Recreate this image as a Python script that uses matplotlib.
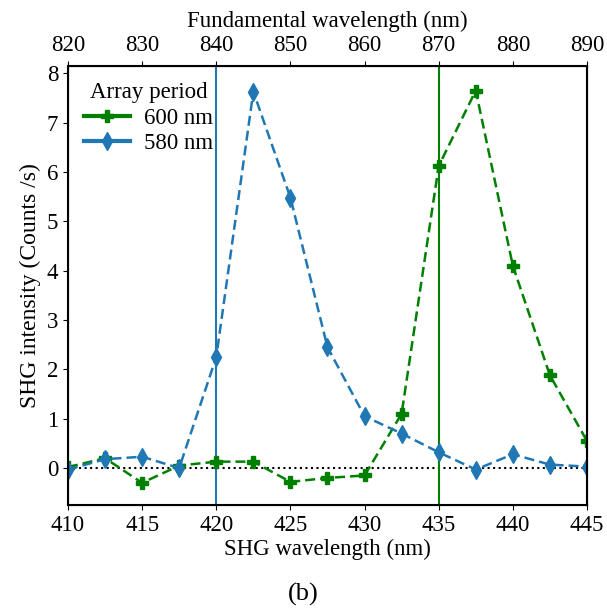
import matplotlib
matplotlib.use('Agg')
import numpy as np
from matplotlib import pyplot as plt
from matplotlib.lines import Line2D

plt.rcParams['font.family'] = ['Liberation Serif', 'DejaVu Serif']
plt.rcParams['font.size'] = 16.5

# SHG wavelength (nm)
lungimi = [410, 412.5, 415, 417.5, 420, 422.5, 425, 427.5, 430, 432.5, 435, 437.5, 440, 442.5, 445]
# intensitati pentru perioada 600 nm si 580 nm
i600 = [0.02, 0.2, -0.3, 0.05, 0.13, 0.13, -0.28, -0.2, -0.15, 1.1, 6.12, 7.65, 4.1, 1.88, 0.55]
i580 = [-0.03, 0.18, 0.23, 0.0, 2.25, 7.63, 5.48, 2.45, 1.05, 0.7, 0.32, -0.03, 0.28, 0.07, 0.03]
rezonante = [420, 435]
etichete = ['600 nm', '580 nm']

fig = plt.figure(figsize=(6.07, 6.10), dpi=100)
ax = fig.add_axes([0.112, 0.172, 0.855, 0.72])

ax.axhline(0, color='black', linestyle=':', linewidth=1.5)
ax.axvline(rezonante[0], color='#1f77b4', linewidth=1.5)
ax.axvline(rezonante[1], color='green', linewidth=1.5)
ax.plot(lungimi, i600, '--', color='green', marker='P', markersize=8, linewidth=1.8, dashes=(4, 2))
ax.plot(lungimi, i580, '--', color='#1f77b4', marker='d', markersize=9, linewidth=1.8, dashes=(4, 2))

ax.set_xlim(410, 445)
ax.set_ylim(-0.75, 8.15)
ax.set_xticks(np.arange(410, 446, 5))
ax.set_yticks(range(0, 9))
ax.set_xlabel('SHG wavelength (nm)', labelpad=2)
ax.set_ylabel('SHG intensity (Counts /s)', fontsize=17)
for s in ax.spines.values():
    s.set_linewidth(1.5)

#legenda cu linii continue
handles = [Line2D([], [], color='green', marker='P', markersize=8, linewidth=3),
           Line2D([], [], color='#1f77b4', marker='d', markersize=9, linewidth=3)]
ax.legend(handles, etichete, title='Array period', loc='upper left', frameon=False,
          handlelength=2.0, borderaxespad=0.3, labelspacing=0.2, handletextpad=0.6)

ax2 = ax.twiny()
ax2.set_xlim(820, 890)
ax2.set_xticks(np.arange(820, 891, 10))
ax2.set_xlabel('Fundamental wavelength (nm)', labelpad=6)

fig.text(0.5, 0.015, '(b)', ha='center', fontsize=19)

fig.savefig('out.png', dpi=100)
